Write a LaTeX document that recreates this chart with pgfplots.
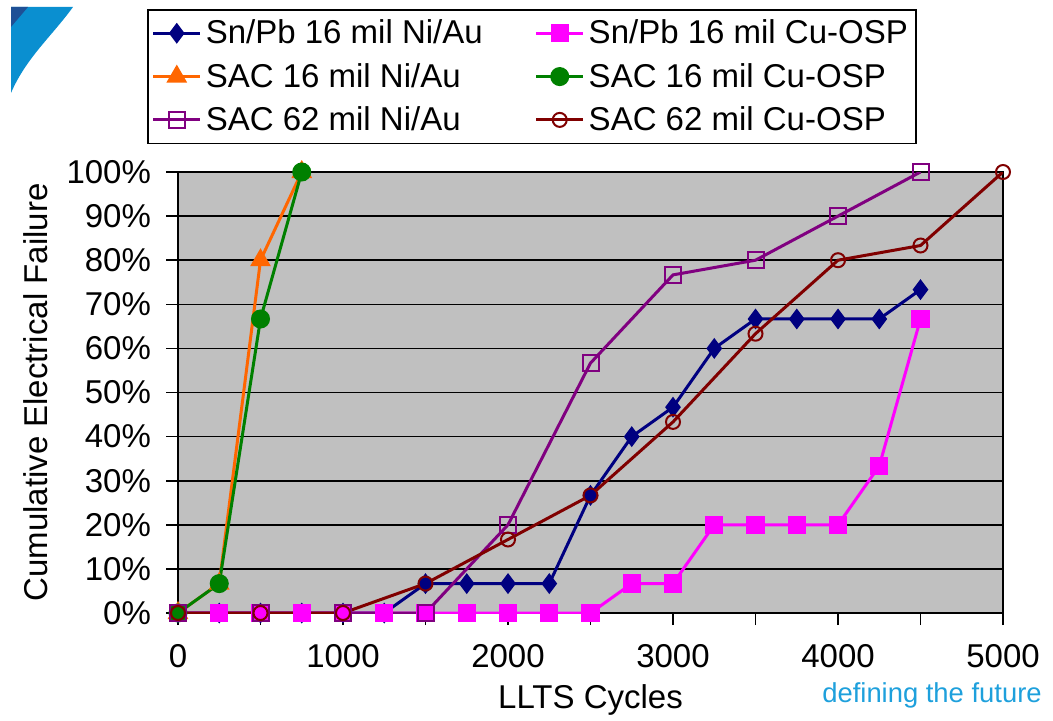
\documentclass[border=0pt]{standalone}
\usepackage{pgfplots}
\pgfplotsset{compat=1.18}
\usepackage{fontspec}
\setmainfont{Liberation Sans}

\definecolor{plotgray}{RGB}{192,192,192}
\definecolor{snpbnau}{RGB}{0,0,128}
\definecolor{snpbosp}{RGB}{255,0,255}
\definecolor{sac16nau}{RGB}{255,102,0}
\definecolor{sac16osp}{RGB}{0,128,0}
\definecolor{sac62nau}{RGB}{128,0,128}
\definecolor{sac62osp}{RGB}{128,0,0}
\definecolor{logolight}{RGB}{10,143,208}
\definecolor{logodark}{RGB}{30,80,150}
\definecolor{futureblue}{RGB}{30,160,220}

\begin{document}
\begin{tikzpicture}[x=0.5pt,y=-0.5pt]
\path[use as bounding box] (0,0) rectangle (1053,721);
% corner logo and tagline
\fill[logolight] (11,7) -- (73,7) .. controls (52,36) and (26,58) .. (11,93) -- cycle;
\fill[logodark] (11,7) -- (28,7) -- (11,27) -- cycle;
\node[text=futureblue, font=\fontsize{13.7}{16}\selectfont, inner sep=0pt] at (932,695) {defining the future};

\begin{axis}[
    at={(89pt,-306.5pt)}, anchor=south west,
    scale only axis, width=412.5pt, height=220.5pt,
    xmin=0, xmax=5000, ymin=0, ymax=100,
    xtick={0,1000,...,5000},
    minor xtick={500,1500,...,4500},
    ytick={0,10,...,100},
    yticklabel={\pgfmathprintnumber{\tick}\%},
    /pgf/number format/assume math mode=true,
    /pgf/number format/1000 sep={},
    font=\fontsize{16.5}{19.8}\selectfont,
    tick label style={font=\fontsize{16.5}{19.8}\selectfont},
    xticklabel style={yshift=-6pt},
    yticklabel style={xshift=-4pt},
    tick align=outside,
    xtick pos=bottom, ytick pos=left,
    major tick length=6pt, minor tick length=6pt,
    tick style={black, line width=0.8pt},
    axis line style={black, line width=0.8pt},
    ymajorgrids, grid style={black, line width=0.8pt},
    axis background/.style={fill=plotgray},
    xlabel={LLTS Cycles},
    ylabel={Cumulative Electrical Failure},
    xlabel style={at={(axis description cs:0.5,-0.197)}, anchor=center},
    ylabel style={at={(axis description cs:-0.173,0.5)}, anchor=center},
    legend columns=2,
    legend cell align=left,
    legend style={at={(-0.0376,1.3696)}, anchor=north west,
        draw=black, line width=0.8pt, fill=white,
        font=\fontsize{16.5}{19.8}\selectfont,
        inner xsep=2pt, inner ysep=3pt, row sep=4.2pt,
        /tikz/every even column/.append style={column sep=24pt}},
    legend image code/.code={
        \draw[mark repeat=2, mark phase=2, #1]
        plot coordinates {(0pt,0pt) (11.75pt,0pt) (23.5pt,0pt)};},
    every axis plot/.append style={line width=1.5pt},
]

\addplot[color=snpbnau, mark=diamond*, mark size=4pt]
coordinates {
    (0,0) (250,0) (500,0) (750,0) (1000,0) (1250,0)
    (1500,6.67) (1750,6.67) (2000,6.67) (2250,6.67)
    (2500,26.67) (2750,40) (3000,46.67) (3250,60)
    (3500,66.67) (3750,66.67) (4000,66.67) (4250,66.67) (4500,73.33)
};
\addlegendentry{Sn/Pb 16 mil Ni/Au}

\addplot[color=snpbosp, mark=square*, mark size=3.8pt]
coordinates {
    (0,0) (250,0) (500,0) (750,0) (1000,0) (1250,0)
    (1500,0) (1750,0) (2000,0) (2250,0) (2500,0)
    (2750,6.67) (3000,6.67) (3250,20) (3500,20)
    (3750,20) (4000,20) (4250,33.33) (4500,66.67)
};
\addlegendentry{Sn/Pb 16 mil Cu-OSP}

\addplot[color=sac16nau, mark=triangle*, mark size=4.5pt]
coordinates {
    (0,0) (250,6.67) (500,80) (750,100)
};
\addlegendentry{SAC 16 mil Ni/Au}

\addplot[color=sac16osp, mark=*, mark size=4pt]
coordinates {
    (0,0) (250,6.67) (500,66.67) (750,100)
};
\addlegendentry{SAC 16 mil Cu-OSP}

\addplot[color=sac62nau, mark=square, mark size=4pt, mark options={line width=1pt}]
coordinates {
    (0,0) (500,0) (1000,0) (1500,0) (2000,20)
    (2500,56.67) (3000,76.67) (3500,80) (4000,90) (4500,100)
};
\addlegendentry{SAC 62 mil Ni/Au}

\addplot[color=sac62osp, mark=o, mark size=3.5pt, mark options={line width=1pt}]
coordinates {
    (0,0) (500,0) (1000,0) (1500,6.67) (2000,16.67)
    (2500,26.67) (3000,43.33) (3500,63.33) (4000,80)
    (4500,83.33) (5000,100)
};
\addlegendentry{SAC 62 mil Cu-OSP}

\end{axis}
\end{tikzpicture}
\end{document}
